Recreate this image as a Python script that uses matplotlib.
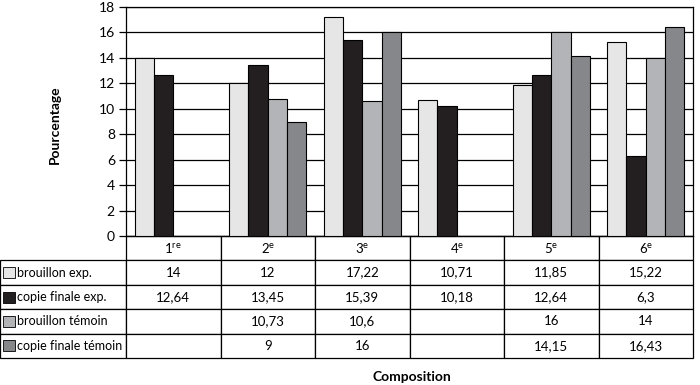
import numpy as np
import matplotlib
matplotlib.use('Agg')
import matplotlib.pyplot as plt
from matplotlib.patches import Rectangle
from matplotlib.table import Table

plt.rcParams['font.family'] = ['Lato', 'DejaVu Sans']
plt.rcParams['mathtext.fontset'] = 'custom'
plt.rcParams['mathtext.rm'] = 'Lato'

compositions = [r'1$^{\mathrm{re}}$', r'2$^{\mathrm{e}}$', r'3$^{\mathrm{e}}$',
                r'4$^{\mathrm{e}}$', r'5$^{\mathrm{e}}$', r'6$^{\mathrm{e}}$']
series_names = ['brouillon exp.', 'copie finale exp.', 'brouillon témoin', 'copie finale témoin']
brouillon_exp = [14, 12, 17.22, 10.71, 11.85, 15.22]
copie_finale_exp = [12.64, 13.45, 15.39, 10.18, 12.64, 6.3]
brouillon_temoin = [None, 10.73, 10.6, None, 16, 14]
copie_finale_temoin = [None, 9, 16, None, 14.15, 16.43]
colors = ['#e6e6e7', '#231f20', '#b3b4b7', '#86878a']

series = [brouillon_exp, copie_finale_exp, brouillon_temoin, copie_finale_temoin]


def fmt(v):
    if v is None:
        return ''
    return ('%g' % v).replace('.', ',')


fig = plt.figure(figsize=(7, 3.85), dpi=100)
ax = fig.add_axes([126 / 700, 1 - 236 / 385, 567 / 700, 229 / 385])

x = np.arange(len(compositions))
w = 0.205
for i, (vals, c) in enumerate(zip(series, colors)):
    v = np.array([np.nan if a is None else a for a in vals], dtype=float)
    ax.bar(x + (i - 1.5) * w, v, width=w, color=c, edgecolor='black',
           linewidth=0.8, zorder=3)

ax.set_xlim(-0.5, len(compositions) - 0.5)
ax.set_ylim(0, 18)
ax.set_yticks(range(0, 19, 2))
ax.set_xticks([])
ax.yaxis.grid(True, color='black', linewidth=0.9)
ax.set_axisbelow(True)
ax.tick_params(axis='y', length=5, width=0.9, labelsize=10, pad=3)
for s in ax.spines.values():
    s.set_linewidth(0.9)

# data table below the chart
lbl_w = 126 / 567
col_w = 1 / len(compositions)
tab_h = 122 / 229
row_h = tab_h / 5
tbl = Table(ax, bbox=[-lbl_w, -tab_h, 1 + lbl_w, tab_h])
tbl.auto_set_font_size(False)
corner = tbl.add_cell(0, 0, lbl_w, row_h, text='')
corner.visible_edges = 'open'
for j, name in enumerate(compositions):
    tbl.add_cell(0, j + 1, col_w, row_h, text=name, loc='center')
for i, (name, vals) in enumerate(zip(series_names, series)):
    cell = tbl.add_cell(i + 1, 0, lbl_w, row_h, text=name, loc='left')
    cell.PAD = 17 / 126
    for j, v in enumerate(vals):
        tbl.add_cell(i + 1, j + 1, col_w, row_h, text=fmt(v), loc='center')
tbl.set_fontsize(9.5)
for (r, c), cell in tbl.get_celld().items():
    cell.set_linewidth(0.9)
    cell.set_edgecolor('black')
    if c == 0:
        cell.get_text().set_fontsize(9)
ax.add_table(tbl)

# legend swatches inside the row label cells
for i, c in enumerate(colors):
    yc = -row_h * (i + 1.5)
    ax.add_patch(Rectangle((-lbl_w + 3 / 567, yc - 5.5 / 229), 12 / 567, 11 / 229,
                           transform=ax.transAxes, facecolor=c, edgecolor='black',
                           linewidth=0.6, clip_on=False, zorder=5))

fig.text(55 / 700, 1 - 125 / 385, 'Pourcentage', rotation=90, ha='center',
         va='center', fontsize=10, fontweight='bold')
fig.text(412 / 700, 1 - 377 / 385, 'Composition', ha='center', va='center',
         fontsize=10, fontweight='bold')

fig.savefig('out.png', dpi=100)
